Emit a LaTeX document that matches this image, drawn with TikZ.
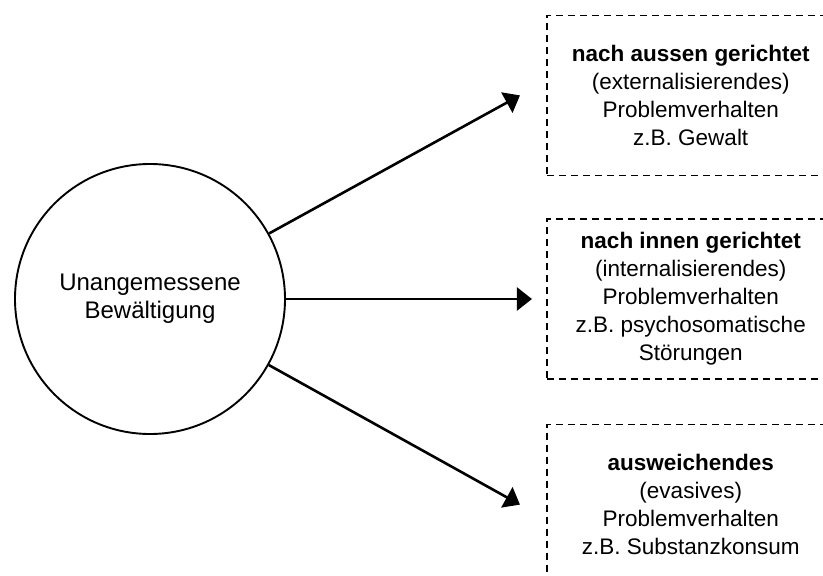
\documentclass[tikz,border=0pt]{standalone}
\usepackage{fontspec}
\setmainfont{Liberation Sans}
\usetikzlibrary{positioning,arrows.meta}

\begin{document}
\begin{tikzpicture}[x=1pt,y=1pt]
\tikzstyle{every node}+=[inner sep=0pt]
\tikzstyle{coping}=[draw,circle,line width=1.9pt,minimum size=270pt,align=center,font=\fontsize{24}{28}\selectfont]
\tikzstyle{outcome}=[draw,dash pattern=on 7pt off 5pt,line width=1.6pt,minimum width=288pt,minimum height=160pt,align=center,font=\fontsize{22.5}{28}\selectfont]
\tikzstyle{route}=[line width=2.6pt,-{Triangle[length=15pt,width=23pt]}]
\useasboundingbox (0,0) rectangle (823,-576);
\node[coping] (bew) at (150,-299) {Unangemessene\\Bew\"altigung};
\node[outcome,right=260pt of bew] (innen) {\textbf{nach innen gerichtet}\\(internalisierendes)\\Problemverhalten\\z.B. psychosomatische\\St\"orungen};
\node[outcome,above=42pt of innen] (aussen) {\textbf{nach aussen gerichtet}\\(externalisierendes)\\Problemverhalten\\z.B. Gewalt};
\node[outcome,below=44pt of innen] (ausweich) {\textbf{ausweichendes}\\(evasives)\\Problemverhalten\\z.B. Substanzkonsum};
\coordinate[left=26pt of aussen.west] (aussentip);
\coordinate[left=14pt of innen.west] (innentip);
\coordinate[left=26pt of ausweich.west] (ausweichtip);
\draw[route] (bew) -- (aussentip);
\draw[route] (bew) -- (innentip);
\draw[route] (bew) -- (ausweichtip);
\end{tikzpicture}
\end{document}
